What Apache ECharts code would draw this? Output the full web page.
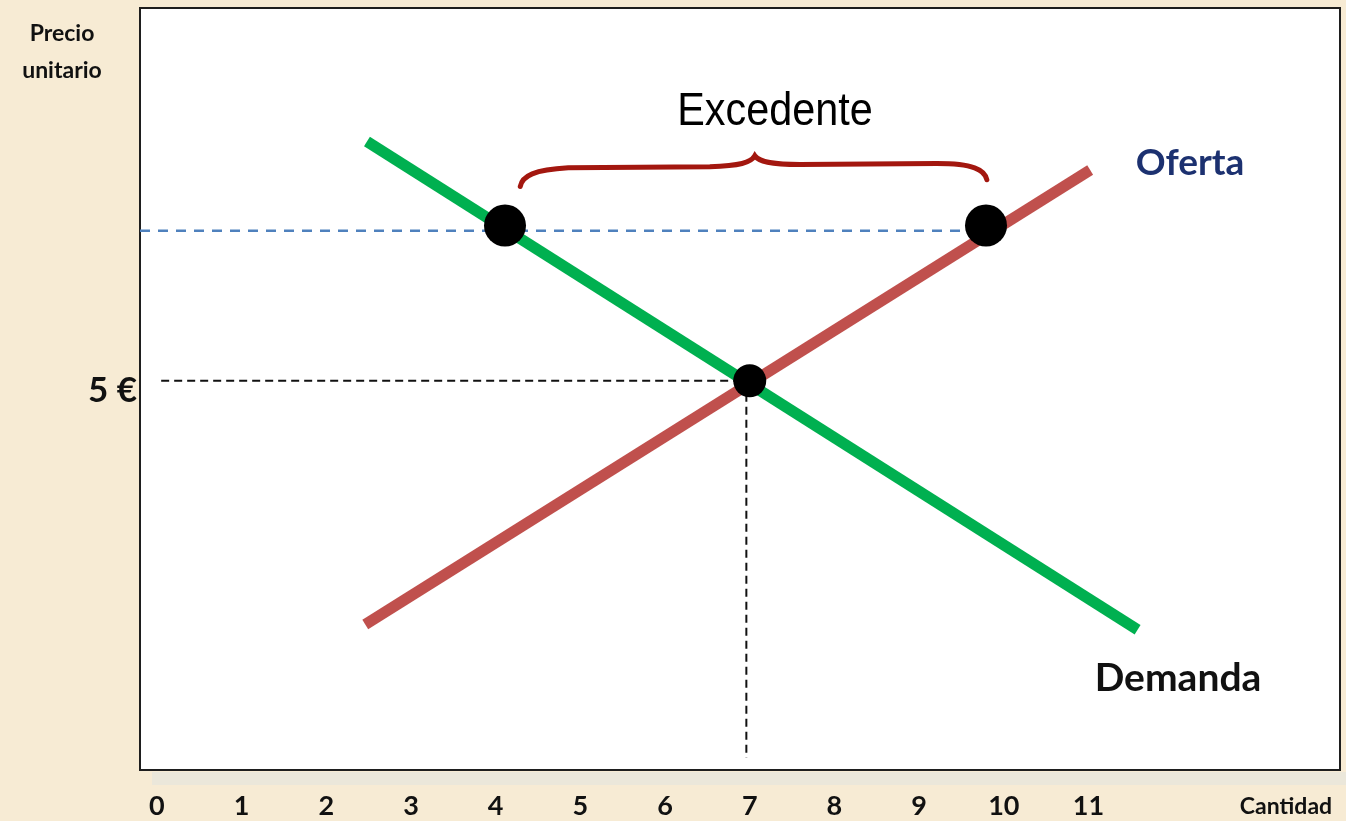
<!DOCTYPE html>
<html>
<head>
<meta charset="utf-8">
<script src="https://cdn.jsdelivr.net/npm/echarts@6/dist/echarts.min.js"></script>
<style>
html,body{margin:0;padding:0;background:#f7ebd4;}
#chart{width:1346px;height:821px;}
</style>
</head>
<body>
<div id="chart"></div>
<script>
// ---- data ----
const tickLabels = [0, 1, 2, 3, 4, 5, 6, 7, 8, 9, 10, 11];
const priceTicks = [5];
const demandLine = [[2.48, 8.19], [11.58, 1.68]];
const supplyLine = [[2.46, 1.75], [11.02, 7.81]];
const surplusPoints = [[4.11, 7.07], [9.79, 7.07]];
const equilibrium = [[7.0, 5.0]];
const surplusPriceGuide = [[-0.2, 7.0], [9.6, 7.0]];
const eqPriceGuide = [[0.05, 5.0], [7.0, 5.0]];
const eqQtyGuide = [[6.96, 5.0], [6.96, -0.03]];
const braceKeys = [[4.29, 7.59], [7.06, 8.0], [9.80, 7.68]];
const braceArm = [7.84, 7.87];

const chart = echarts.init(document.getElementById('chart'), null, {renderer: 'canvas'});
const boldFont = 'Lato, "Open Sans", sans-serif';

chart.setOption({
  backgroundColor: '#f7ebd4',
  animation: false,
  grid: {
    left: 140, right: 6, top: 8, bottom: 51,
    show: true,
    backgroundColor: '#ffffff',
    borderColor: '#1e1e1e',
    borderWidth: 2
  },
  xAxis: {
    type: 'value',
    min: -0.2, max: 13.97,
    axisLine: {show: false},
    axisTick: {show: false},
    splitLine: {show: false},
    axisLabel: {
      customValues: tickLabels,
      margin: 23,
      fontFamily: boldFont,
      fontWeight: 'bold',
      fontSize: 27,
      lineHeight: 27,
      color: '#111'
    }
  },
  yAxis: {
    type: 'value',
    min: -0.19, max: 9.97,
    axisLine: {show: false},
    axisTick: {show: false},
    splitLine: {show: false},
    axisLabel: {
      customValues: priceTicks,
      formatter: v => v + ' €',
      margin: 3,
      verticalAlign: 'top',
      lineHeight: 20,
      fontFamily: boldFont,
      fontWeight: 'bold',
      fontSize: 35,
      color: '#111'
    }
  },
  series: [
    {
      type: 'line', data: surplusPriceGuide, symbol: 'none', silent: true, z: 2,
      lineStyle: {color: '#4f81bd', width: 2.5, type: [10, 8]}
    },
    {
      type: 'line', data: eqPriceGuide, symbol: 'none', silent: true, z: 2,
      lineStyle: {color: '#111', width: 2, type: [8, 5]}
    },
    {
      type: 'line', data: eqQtyGuide, symbol: 'none', silent: true, z: 2,
      lineStyle: {color: '#111', width: 2, type: [8, 5]}
    },
    {
      name: 'Demanda', type: 'line', data: demandLine, symbol: 'none', z: 3,
      lineStyle: {color: '#00b050', width: 11, cap: 'butt'}
    },
    {
      name: 'Oferta', type: 'line', data: supplyLine, symbol: 'none', z: 3,
      lineStyle: {color: '#c0504d', width: 11, cap: 'butt'}
    },
    {
      type: 'scatter', data: surplusPoints, symbolSize: 42, z: 6,
      itemStyle: {color: '#000', opacity: 1}
    },
    {
      type: 'scatter', data: equilibrium, symbolSize: 33, z: 6,
      itemStyle: {color: '#000', opacity: 1}
    },
    {
      type: 'custom',
      data: [braceKeys[0]],
      silent: true,
      z: 4,
      renderItem: function (params, api) {
        const L = api.coord(braceKeys[0]);
        const T = api.coord(braceKeys[1]);
        const R = api.coord(braceKeys[2]);
        const aL = api.coord([braceKeys[0][0], braceArm[0]])[1];
        const aR = api.coord([braceKeys[2][0], braceArm[1]])[1];
        const d = [
          'M', L[0], L[1],
          'C', L[0] + 2, aL + 8, L[0] + 14, aL + 2, L[0] + 48, aL,
          'L', T[0] - 45, aL - 1,
          'C', T[0] - 15, aL - 2, T[0] - 4, aL - 5, T[0], T[1],
          'C', T[0] + 4, aR - 4, T[0] + 15, aR - 1, T[0] + 45, aR - 1,
          'L', R[0] - 50, aR - 2,
          'C', R[0] - 14, aR - 2, R[0] - 2, aR + 4, R[0], R[1]
        ].join(' ');
        return {
          type: 'path',
          shape: {pathData: d},
          style: {fill: 'none', stroke: '#a3170f', lineWidth: 5, lineCap: 'round'}
        };
      }
    }
  ],
  graphic: [
    {
      type: 'rect', z: -1,
      shape: {x: 152, y: 772, width: 1194, height: 13},
      style: {fill: '#ebe7da'}
    },
    {
      type: 'text',
      style: {
        text: 'Precio\nunitario', x: 62, y: 52, align: 'center', verticalAlign: 'middle',
        font: 'bold 23px ' + boldFont, lineHeight: 37, fill: '#111'
      }
    },
    {
      type: 'text',
      style: {
        text: 'Cantidad', x: 1286, y: 807, align: 'center', verticalAlign: 'middle',
        font: 'bold 23px ' + boldFont, fill: '#111'
      }
    },
    {
      type: 'text',
      style: {
        text: 'Oferta', x: 1190, y: 163, align: 'center', verticalAlign: 'middle',
        font: 'bold 37px ' + boldFont, fill: '#1c3170'
      }
    },
    {
      type: 'text',
      style: {
        text: 'Demanda', x: 1178, y: 678, align: 'center', verticalAlign: 'middle',
        font: 'bold 39px ' + boldFont, fill: '#111'
      }
    },
    {
      type: 'text',
      x: 775, y: 112, scaleX: 0.88,
      style: {
        text: 'Excedente', x: 0, y: 0, align: 'center', verticalAlign: 'middle',
        font: '47px "Liberation Sans", Arial, sans-serif', fill: '#000'
      }
    }
  ]
});
</script>
</body>
</html>
